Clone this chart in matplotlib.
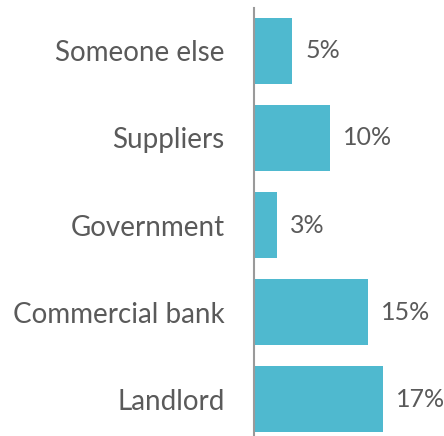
import matplotlib
matplotlib.use('Agg')
import matplotlib.pyplot as plt

categories = ['Someone else', 'Suppliers', 'Government', 'Commercial bank', 'Landlord']
shares = [5, 10, 3, 15, 17]

plt.rcParams['font.family'] = ['Lato', 'DejaVu Sans']

W, H = 444, 436
fig = plt.figure(figsize=(W / 100, H / 100), dpi=100)
ax = fig.add_axes([254 / W, 0, 1 - 254 / W, (436 - 8) / H])

pos = list(range(len(categories)))
ax.barh(pos, shares, height=0.76, color='#4fb9cf', zorder=2)

for p, v in zip(pos, shares):
    ax.annotate(f'{v}%', (v, p), xytext=(9.5, 0), textcoords='offset points',
                va='center', ha='left', fontsize=18, color='#5a5a5a')

ax.set_xlim(0, (W - 254) / 7.6)
ax.set_ylim(4.425, -0.494)
ax.set_yticks(pos)
ax.set_yticklabels(categories, fontsize=20, color='#5a5a5a')
ax.tick_params(axis='y', length=0, pad=21)
ax.set_xticks([])

for s in ['top', 'right', 'bottom']:
    ax.spines[s].set_visible(False)
ax.spines['left'].set_color('#9a9a9a')
ax.spines['left'].set_linewidth(1.5)

fig.savefig('out.png', dpi=100)
